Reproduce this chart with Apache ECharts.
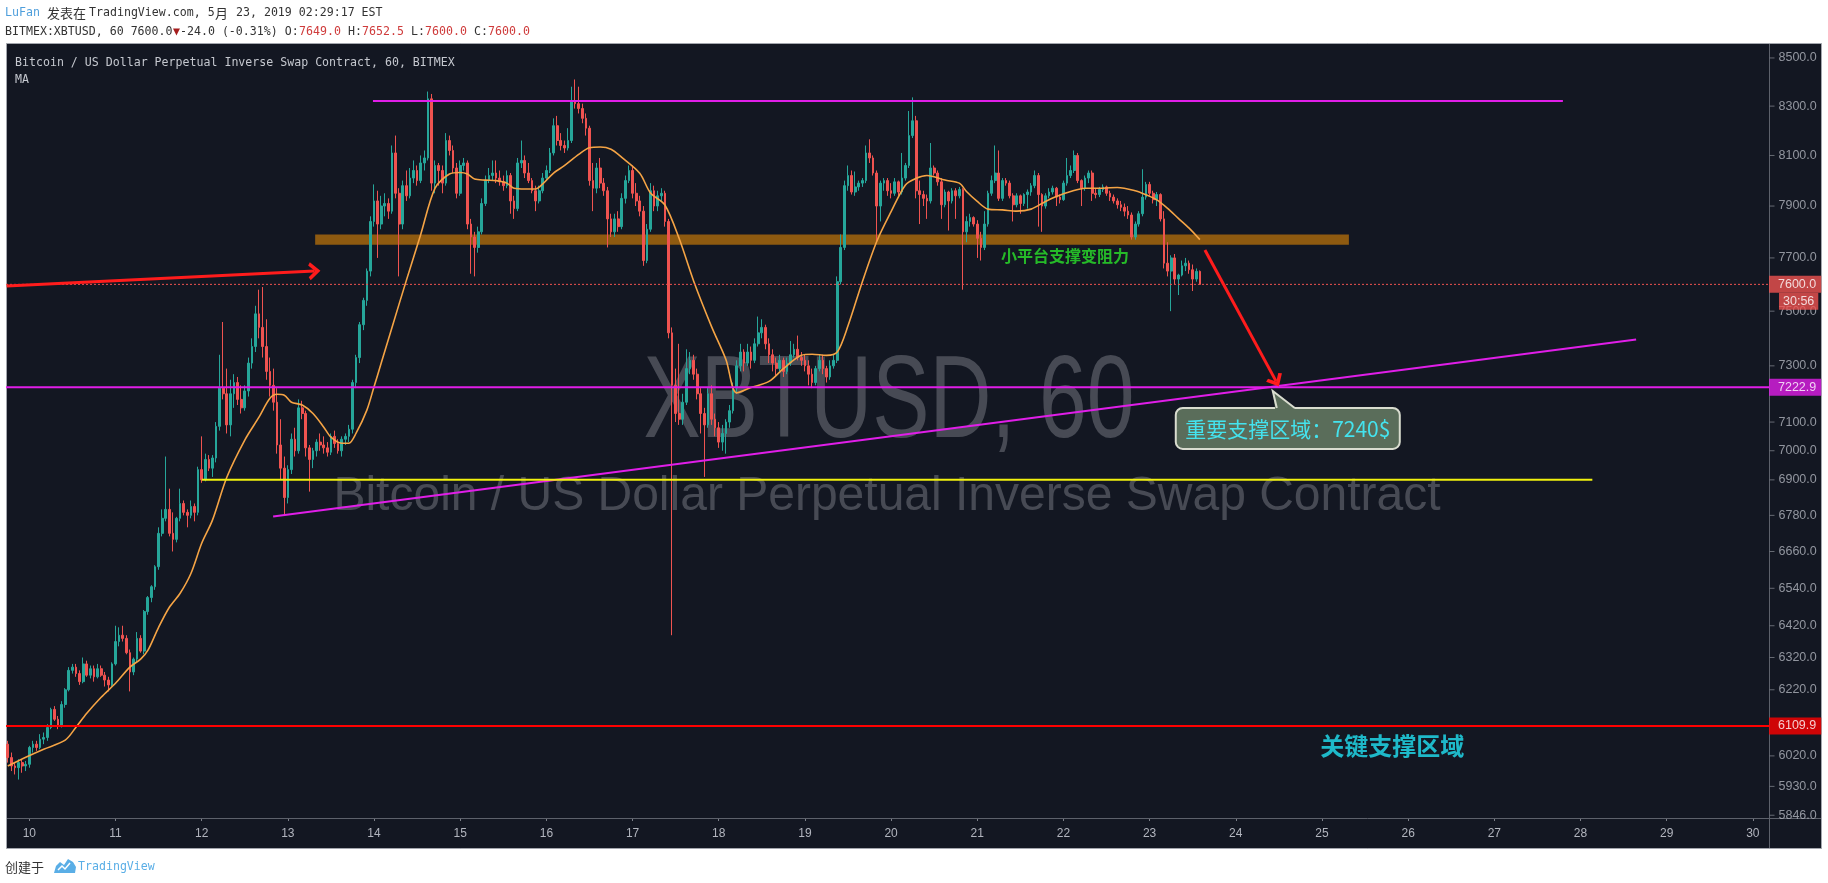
<!DOCTYPE html>
<html><head><meta charset="utf-8">
<script src="https://cdn.jsdelivr.net/npm/echarts@6/dist/echarts.min.js"></script>
<style>html,body{margin:0;padding:0;background:#fff;}#c{width:1828px;height:883px;}</style>
</head><body><div id="c"></div>
<script>
// ---------- DATA ----------
// hourly candles, index 0 = 9 May 18:00 (UTC+8)
const opens = [
6055,6015,5990,5985,6000,5990,5995,6045,6055,6045,
6070,6075,6105,6160,6130,6110,6175,6220,6280,6290,
6270,6245,6300,6265,6285,6260,6285,6265,6250,6235,
6300,6370,6390,6380,6335,6275,6315,6380,6340,6465,
6510,6545,6610,6720,6770,6800,6720,6700,6770,6820,
6790,6780,6810,6790,6935,6900,6970,6940,6975,7085,
7220,7200,7090,7200,7240,7180,7150,7210,7310,7370,
7490,7440,7370,7280,7230,7170,7020,6940,6840,6935,
7040,7000,7150,7130,7010,6970,7000,7030,7020,7010,
6995,7050,7025,7000,7040,7050,7075,7240,7330,7450,
7540,7650,
7840,7920,7830,7900,7910,7880,8110,7950,7830,7980,
7940,8010,8040,8000,8070,8090,8330,7990,8060,8040,
7990,8160,8120,8050,7950,8060,8070,7830,7780,7740,
7800,7910,8000,8020,8030,8010,7995,7980,8020,7920,
7890,8070,8080,8030,8000,7960,7920,7960,8010,8040,
8110,8220,8160,8140,8130,8160,8320,8310,8290,8250,
8210,8000,7970,8050,7990,7960,7850,7800,7850,7820,
7930,8000,8040,7950,7920,7880,7690,7810,7960,7900,
7940,7950,7840,7420,7230,7130,7110,7170,7290,7320,
7270,7200,7130,7090,7200,7110,7080,7030,7060,7100,
7140,7220,7300,7350,7310,7350,7320,7380,7420,7440,
7380,7340,7310,7290,7320,7280,7310,7340,7360,7330,
7320,7300,7270,7240,7290,7320,7290,7260,7300,7320,
7610,7740,7980,8020,7955,7975,7990,8000,8110,8090,
8030,7900,7990,8000,7960,7950,7995,7955,8010,8060,
8180,8240,7960,7945,7930,7920,8050,8030,7995,7905,
7955,7920,7960,7940,7965,7800,7840,7855,7830,7775,
7740,7830,7950,8000,8030,7930,8000,7990,7940,7905,
7940,7910,7945,7955,7980,8020,7945,7900,7940,7955,
7970,7935,7925,7990,8020,8040,8100,8000,7970,8010,
8030,7950,7945,7965,7975,7950,7935,7920,7905,7895,
7880,7865,7780,7830,7870,7935,7985,7950,7925,7945,
7850,7680,7650,7700,7620,7635,7670,7680,7655,7620,7649];
const highs = [
6065,6030,6000,6010,6010,6005,6050,6065,6065,6085,
6090,6115,6165,6170,6140,6185,6225,6290,6300,6300,
6280,6320,6310,6295,6295,6300,6295,6275,6260,6305,
6420,6415,6420,6390,6345,6320,6400,6390,6470,6515,
6550,6615,6740,6800,6980,6870,6790,6775,6870,6830,
6800,6830,6820,6945,7050,6990,6985,6985,7100,7340,
7460,7290,7250,7270,7260,7230,7230,7330,7400,7520,
7580,7590,7470,7330,7290,7220,7110,6980,6950,7060,
7080,7180,7175,7140,7020,7010,7040,7060,7050,7030,
7060,7070,7040,7050,7060,7090,7250,7340,7460,7550,
7660,7860,
7985,7960,7940,7950,7930,8140,8180,7970,8000,8040,
8050,8080,8060,8100,8120,8360,8350,8080,8070,8060,
8190,8180,8140,8070,8080,8090,8080,7850,7800,7820,
7930,8020,8050,8080,8080,8040,8020,8040,8030,7940,
8090,8160,8100,8070,8010,7980,7980,8030,8060,8130,
8250,8260,8190,8160,8210,8380,8410,8380,8310,8270,
8220,8070,8070,8090,8010,7975,7870,7870,7880,7950,
8020,8060,8060,7990,7940,7900,7830,7990,7980,7960,
7970,7960,7850,7440,7290,7380,7200,7360,7350,7340,
7290,7220,7150,7220,7230,7130,7100,7090,7110,7160,
7240,7320,7380,7360,7380,7370,7400,7480,7470,7450,
7400,7360,7330,7340,7330,7330,7390,7380,7410,7350,
7340,7320,7290,7300,7340,7340,7300,7320,7340,7630,
7790,8000,8060,8040,8036,8000,8010,8140,8165,8100,
8040,8000,8010,8010,7990,8010,8000,8110,8070,8280,
8336,8260,8000,7960,7945,8150,8060,8040,8010,7965,
7960,7970,7970,7975,7970,7860,7870,7860,7845,7800,
7880,7960,8020,8140,8120,8010,8010,8000,7950,7950,
7945,7950,7965,7990,8040,8030,7950,7950,7970,7980,
7975,7945,8000,8090,8060,8120,8110,8005,8020,8040,
8040,7970,7975,7985,7980,7960,7945,7930,7920,7910,
7900,7875,7840,7880,8045,7995,7995,7960,7955,7950,
7880,7760,7710,7715,7640,7690,7700,7690,7675,7660,7652.5];
const lows = [
6000,5975,5965,5950,5970,5975,5985,6030,6035,6040,
6055,6065,6100,6125,6100,6105,6165,6215,6270,6260,
6235,6240,6260,6255,6245,6255,6260,6230,6215,6230,
6295,6355,6370,6330,6215,6265,6305,6335,6330,6455,
6495,6535,6600,6710,6760,6710,6660,6690,6760,6780,
6740,6770,6760,6780,6890,6895,6930,6910,6960,7070,
7180,7060,7050,7150,7160,7130,7140,7190,7290,7350,
7400,7330,7250,7190,7140,6990,6900,6780,6820,6920,
6980,6990,7110,6980,6860,6940,6980,7000,6990,6980,
6985,7010,6990,6980,7020,7030,7060,7220,7310,7430,
7520,7630,
7820,7700,7810,7860,7850,7870,7930,7630,7810,7920,
7930,7990,7980,7990,8040,8080,7960,7950,7980,7950,
7980,8100,8030,7930,7940,8040,7810,7640,7630,7720,
7790,7900,7990,8000,7990,7980,7960,7970,7870,7850,
7880,8050,8010,7990,7950,7880,7910,7950,8000,8030,
8100,8140,8120,8110,8120,8150,8290,8270,8230,8180,
7980,7880,7950,7970,7940,7740,7780,7780,7800,7810,
7910,7990,7930,7900,7860,7670,7680,7800,7880,7880,
7920,7820,7400,6390,7100,7090,7090,7160,7270,7250,
7180,7060,6910,7080,7090,7050,7010,7000,6990,7080,
7130,7200,7280,7280,7300,7290,7310,7370,7400,7360,
7310,7280,7260,7280,7260,7270,7300,7330,7320,7300,
7280,7230,7220,7230,7280,7270,7240,7250,7290,7310,
7600,7730,7960,7945,7940,7960,7975,7990,8070,8020,
7765,7840,7960,7940,7930,7940,7940,7945,8000,8050,
8170,7930,7830,7900,7850,7910,8020,7980,7850,7895,
7805,7910,7850,7930,7580,7760,7820,7820,7700,7690,
7730,7820,7940,7990,7920,7920,7980,7930,7840,7895,
7870,7900,7890,7940,7970,7820,7800,7890,7930,7945,
7900,7910,7920,7980,8010,8030,7990,7900,7960,7990,
7920,7930,7935,7955,7940,7920,7910,7890,7880,7860,
7850,7770,7770,7820,7860,7925,7940,7910,7900,7840,
7660,7630,7500,7600,7560,7630,7650,7640,7575,7610,7600];
const closes = [
6015,5990,5985,6000,5990,5995,6045,6055,6045,6070,
6075,6105,6160,6130,6110,6175,6220,6280,6290,6270,
6245,6300,6265,6285,6260,6285,6265,6250,6235,6300,
6370,6390,6380,6335,6275,6315,6380,6340,6465,6510,
6545,6610,6720,6770,6800,6720,6700,6770,6820,6790,
6780,6810,6790,6935,6900,6970,6940,6975,7085,7220,
7200,7090,7200,7240,7180,7150,7210,7310,7370,7490,
7440,7370,7280,7230,7170,7020,6940,6840,6935,7040,
7000,7150,7130,7010,6970,7000,7030,7020,7010,6995,
7050,7025,7000,7040,7050,7075,7240,7330,7450,7540,
7650,7840,
7920,7830,7900,7910,7880,8110,7950,7830,7980,7940,
8010,8040,8000,8070,8090,8330,7990,8060,8040,7990,
8160,8120,8050,7950,8060,8070,7830,7780,7740,7800,
7910,8000,8020,8030,8010,7995,7980,8020,7920,7890,
8070,8080,8030,8000,7960,7920,7960,8010,8040,8110,
8220,8160,8140,8130,8160,8320,8310,8290,8250,8210,
8000,7970,8050,7990,7960,7850,7800,7850,7820,7930,
8000,8040,7950,7920,7880,7690,7810,7960,7900,7940,
7950,7840,7420,7230,7130,7110,7170,7290,7320,7270,
7200,7130,7090,7200,7110,7080,7030,7060,7100,7140,
7220,7300,7350,7310,7350,7320,7380,7420,7440,7380,
7340,7310,7290,7320,7280,7310,7340,7360,7330,7320,
7300,7270,7240,7290,7320,7290,7260,7300,7320,7610,
7740,7980,8020,7955,7975,7990,8000,8110,8090,8030,
7900,7990,8000,7960,7950,7995,7955,8010,8060,8180,
8240,7960,7945,7930,7920,8050,8030,7995,7905,7955,
7920,7960,7940,7965,7800,7840,7855,7830,7775,7740,
7830,7950,8000,8030,7930,8000,7990,7940,7905,7940,
7910,7945,7955,7980,8020,7945,7900,7940,7955,7970,
7935,7925,7990,8020,8040,8100,8000,7970,8010,8030,
7950,7945,7965,7975,7950,7935,7920,7905,7895,7880,
7865,7780,7830,7870,7935,7985,7950,7925,7945,7850,
7680,7650,7700,7620,7635,7670,7680,7655,7620,7649,7600];
// MA indicator: [candle index, value]
const maPoints = [[0,5990],[5,6016],[10,6040],[16,6067],[19,6106],[22,6148],[26,6197],[30,6240],[34,6290],[37,6315],[39,6342],[42,6415],[45,6479],[48,6524],[51,6588],[54,6687],[57,6764],[61,6909],[66,7037],[70,7118],[73,7184],[75,7198],[77,7195],[79,7170],[82,7160],[85,7130],[88,7082],[90,7047],[93,7026],[95,7026],[97,7061],[100,7142],[102,7225],[104,7310],[107,7440],[111,7615],[115,7790],[119,7970],[123,8026],[126,8032],[128,8026],[130,8006],[133,8002],[136,8000],[139,7990],[141,7970],[144,7967],[147,7967],[149,7987],[152,8030],[155,8059],[159,8104],[162,8131],[165,8134],[168,8125],[171,8092],[176,8029],[179,7951],[183,7904],[187,7773],[191,7613],[196,7443],[200,7323],[203,7203],[207,7222],[212,7244],[216,7290],[221,7338],[224,7342],[228,7338],[231,7350],[234,7446],[238,7610],[242,7763],[246,7878],[250,7983],[253,8009],[256,8020],[261,8002],[265,7990],[267,7957],[270,7918],[273,7888],[277,7885],[281,7880],[285,7888],[289,7918],[292,7937],[296,7957],[300,7970],[305,7970],[309,7973],[314,7960],[317,7944],[320,7924],[323,7891],[326,7852],[329,7814],[332,7770]];
const dayLabels = ['10','11','12','13','14','15','16','17','18','19','20','21','22','23','24','25','26','27','28','29','30'];
const priceTicks = [8500,8300,8100,7900,7700,7500,7300,7100,7000,6900,6780,6660,6540,6420,6320,6220,6020,5930,5846];
const lastPrice = 7600.0;
const countdown = '30:56';
const supportLevel = 7222.9;
const keySupport = 6109.9;
const resistanceTop = [[101.7, 8321], [433.1, 8321]];
const supportBand = [[85.6, 7790], [373.5, 7750]];
const yellowLine = [[54.0, 6900], [441.3, 6900]];
const trendLine = [[73.9, 6776], [453.5, 7396]];
const arrowLeft = [[-0.3, 7594], [85.4, 7650]];
const arrowDown = [[333.4, 7730], [353.2, 7245]];
const calloutAnchor = [352.3, 7210];
const calloutText = '重要支撑区域：7240$';
const noteGreen = [294.4, 7708];
const noteGreenText = '小平台支撑变阻力';
const noteCyan = [385.6, 6049];
const noteCyanText = '关键支撑区域';

// ---------- CHART ----------
const N_CATS = 491, START_HOUR = 18;
const categories = [];
for (let i = 0; i < N_CATS; i++) {
  const h = START_HOUR + i;
  categories.push('5/' + (9 + Math.floor(h / 24)) + ' ' + String(h % 24).padStart(2, '0') + ':00');
}
const isDayStart = (idx) => (START_HOUR + idx) % 24 === 0;
const candleData = opens.map((o, i) => [o, closes[i], lows[i], highs[i]]);
const XR = 490.5, XL = -0.5;
const MAG = '#e01ee8';
const MONO = '"DejaVu Sans Mono", monospace';
const CJK = '"Noto Sans CJK SC"';

function seg(x, y, text, fill, font) {
  return {type: 'text', x: x, y: y, silent: true, z: 10,
    style: {text: text, fill: fill, font: font, textVerticalAlign: 'middle', verticalAlign: 'middle'}};
}
const F12 = '11.6px ' + MONO;
const FC = '13px ' + CJK;
const dark = '#333333', redv = '#cf3b3b';
const graphics = [
  {type: 'rect', z: -10, silent: true, shape: {x: 6.5, y: 43.5, width: 1815, height: 805}, style: {fill: '#131722', stroke: '#a3a6ad', lineWidth: 1}},
  {type: 'line', z: 1, silent: true, shape: {x1: 1769.5, y1: 44, x2: 1769.5, y2: 848}, style: {stroke: '#5d616b', lineWidth: 1}},
  {type: 'line', z: 1, silent: true, shape: {x1: 7, y1: 818.5, x2: 1821, y2: 818.5}, style: {stroke: '#5d616b', lineWidth: 1}},
  {type: 'text', z: -5, silent: true, x: 889, y: 405, scaleX: 0.733,
    style: {text: 'XBTUSD, 60', font: '117px "Liberation Sans"', fill: 'rgba(149,152,161,0.40)', textAlign: 'center', align: 'center', textVerticalAlign: 'middle', verticalAlign: 'middle'}},
  {type: 'text', z: -5, silent: true, x: 887, y: 497,
    style: {text: 'Bitcoin / US Dollar Perpetual Inverse Swap Contract', font: '48px "Liberation Sans"', fill: 'rgba(149,152,161,0.40)', textAlign: 'center', align: 'center', textVerticalAlign: 'middle', verticalAlign: 'middle'}},
  // header line 1
  seg(5, 13, 'LuFan', '#4f9fdc', F12),
  seg(47, 13, '发表在', dark, FC),
  seg(89, 13, 'TradingView.com, 5', dark, F12),
  seg(215, 13, '月', dark, FC),
  seg(229, 13, ' 23, 2019 02:29:17 EST', dark, F12),
  // header line 2
  seg(5, 32, 'BITMEX:XBTUSD, 60 7600.0', dark, F12),
  seg(173, 32, '▼', '#a51d1d', F12),
  seg(180, 32, '-24.0 (-0.31%) O:', dark, F12),
  seg(299, 32, '7649.0', redv, F12),
  seg(341, 32, ' H:', dark, F12),
  seg(362, 32, '7652.5', redv, F12),
  seg(404, 32, ' L:', dark, F12),
  seg(425, 32, '7600.0', redv, F12),
  seg(467, 32, ' C:', dark, F12),
  seg(488, 32, '7600.0', redv, F12),
  // panel legend
  seg(15, 63, 'Bitcoin / US Dollar Perpetual Inverse Swap Contract, 60, BITMEX', '#c5c8cf', F12),
  seg(15, 80, 'MA', '#c5c8cf', F12),
  // footer
  seg(5, 867, '创建于', dark, '13px ' + CJK),
  {type: 'polygon', silent: true, z: 10, shape: {points: [[54,873],[56,866],[60,862],[64,865],[68,859],[73,862],[76,867],[75,873]]}, style: {fill: '#5aaee6'}},
  {type: 'polyline', silent: true, z: 11, shape: {points: [[58,870],[62,866],[65,869],[70,863]]}, style: {stroke: '#ffffff', lineWidth: 1.5, fill: null}},
  seg(78, 867, 'TradingView', '#5aaee6', F12)
];

const chevron = 'path://M0,11 L10,0 L20,11 L16.5,13 L10,6 L3.5,13 Z';

const option = {
  animation: false,
  backgroundColor: '#ffffff',
  graphic: graphics,
  grid: {left: 6, right: 59, top: 43, bottom: 65, containLabel: false},
  xAxis: [
    {type: 'category', data: categories, boundaryGap: true,
      axisLine: {show: false},
      axisTick: {show: true, interval: isDayStart, alignWithLabel: true, length: 3, lineStyle: {color: '#7c7f88'}},
      axisLabel: {interval: isDayStart, formatter: (v, idx) => dayLabels[(START_HOUR + idx) / 24 - 1],
        color: '#b2b5be', fontSize: 12, fontFamily: 'Liberation Sans', margin: 10},
      splitLine: {show: false}},
    {type: 'value', min: XL, max: XR, show: false}
  ],
  yAxis: [{type: 'log', logBase: 10, min: 5838, max: 8563, position: 'right',
    axisLine: {show: false}, axisTick: {show: false}, axisLabel: {show: false}, splitLine: {show: false}}],
  series: [
    {name: 'XBTUSD', type: 'candlestick', xAxisIndex: 0, yAxisIndex: 0, data: candleData, barWidth: 2.2,
      itemStyle: {color: '#26a69a', color0: '#ef5350', borderColor: '#26a69a', borderColor0: '#ef5350', borderWidth: 1}},
    {name: 'MA', type: 'line', xAxisIndex: 1, data: maPoints, smooth: 0.3, showSymbol: false, symbol: 'none',
      lineStyle: {color: '#f5a445', width: 1.6}, z: 3},
    {name: 'last', type: 'line', xAxisIndex: 1, data: [[XL, lastPrice], [XR, lastPrice]], symbol: 'none',
      lineStyle: {color: '#ef5350', width: 1, type: [2, 2]}, z: 3},
    {name: 'band', type: 'line', xAxisIndex: 1, data: [], z: 4,
      markArea: {silent: true, itemStyle: {color: 'rgba(255,152,0,0.52)'}, data: [[{coord: supportBand[0]}, {coord: supportBand[1]}]]},
      markLine: {silent: true, symbol: ['none', chevron], symbolSize: [18, 12], label: {show: false},
        lineStyle: {color: '#ff1c1c', width: 3, type: 'solid'},
        data: [[{coord: arrowLeft[0]}, {coord: arrowLeft[1]}], [{coord: arrowDown[0]}, {coord: arrowDown[1]}]]}},
    {name: 'top', type: 'line', xAxisIndex: 1, data: resistanceTop, symbol: 'none', lineStyle: {color: MAG, width: 2}, z: 4},
    {name: 'support', type: 'line', xAxisIndex: 1, data: [[XL, supportLevel], [XR, supportLevel]], symbol: 'none', lineStyle: {color: MAG, width: 2}, z: 4},
    {name: 'trend', type: 'line', xAxisIndex: 1, data: trendLine, symbol: 'none', lineStyle: {color: MAG, width: 2}, z: 4},
    {name: 'yellow', type: 'line', xAxisIndex: 1, data: yellowLine, symbol: 'none', lineStyle: {color: '#f2f20e', width: 2}, z: 4},
    {name: 'key', type: 'line', xAxisIndex: 1, data: [[XL, keySupport], [XR, keySupport]], symbol: 'none', lineStyle: {color: '#ff0000', width: 2}, z: 4},
    {name: 'notes', type: 'scatter', xAxisIndex: 1, silent: true, z: 7, symbolSize: 1, itemStyle: {color: 'rgba(0,0,0,0)'},
      data: [
        {value: noteGreen, label: {show: true, position: 'inside', formatter: noteGreenText, color: '#2be32b', fontSize: 16, fontWeight: 'bold', fontFamily: CJK}},
        {value: noteCyan, label: {show: true, position: 'inside', formatter: noteCyanText, color: '#22e2f4', fontSize: 24, fontWeight: 'bold', fontFamily: CJK}}
      ]},
    {name: 'callout', type: 'custom', xAxisIndex: 1, yAxisIndex: 0, clip: false, silent: true, z: 8,
      data: [calloutAnchor],
      renderItem: function (params, api) {
        const p = api.coord([api.value(0), api.value(1)]);
        const x = p[0], y = p[1];
        const fill = '#5a6d5a', stroke = '#d9dccf';
        return {type: 'group', children: [
          {type: 'rect', shape: {x: x - 97, y: y + 17, width: 224, height: 41, r: 7}, style: {fill: fill, stroke: stroke, lineWidth: 2}},
          {type: 'polygon', shape: {points: [[x + 2.5, y + 19], [x, y], [x + 23.5, y + 19]]}, style: {fill: fill}},
          {type: 'polyline', shape: {points: [[x + 4, y + 17], [x, y], [x + 22, y + 17]]}, style: {stroke: stroke, lineWidth: 2, fill: null}},
          {type: 'text', x: x + 15, y: y + 38, style: {text: calloutText, fill: '#44e3ee', font: '21px ' + CJK, align: 'center', verticalAlign: 'middle', textAlign: 'center', textVerticalAlign: 'middle'}}
        ]};
      }},
    {name: 'yTicks', type: 'scatter', xAxisIndex: 1, clip: false, silent: true, z: 5,
      data: priceTicks.map(v => [XR, v]), symbol: 'rect', symbolSize: [5, 1], symbolOffset: [3, 0],
      itemStyle: {color: '#7c7f88'},
      label: {show: true, position: 'right', distance: 4, formatter: p => p.value[1].toFixed(1), color: '#b2b5be', fontSize: 12.5, fontFamily: 'Liberation Sans'}},
    {name: 'tags', type: 'scatter', xAxisIndex: 1, clip: false, silent: true, z: 6, symbolSize: 0,
      label: {show: true, position: 'right', distance: 0, color: '#ffffff', fontSize: 12.5, fontFamily: 'Liberation Sans', lineHeight: 13, padding: [2, 5, 2, 9]},
      data: [
        {value: [XR, lastPrice], label: {formatter: lastPrice.toFixed(1), backgroundColor: '#ef5350'}},
        {value: [XR, lastPrice], label: {formatter: countdown, backgroundColor: '#ef5350', offset: [10, 17], padding: [2, 4, 2, 4]}},
        {value: [XR, supportLevel], label: {formatter: supportLevel.toFixed(1), backgroundColor: MAG}},
        {value: [XR, keySupport], label: {formatter: keySupport.toFixed(1), backgroundColor: '#ff0000'}}
      ]}
  ]
};
const chart = echarts.init(document.getElementById('c'), null, {renderer: 'canvas'});
chart.setOption(option);
</script>
</body></html>
